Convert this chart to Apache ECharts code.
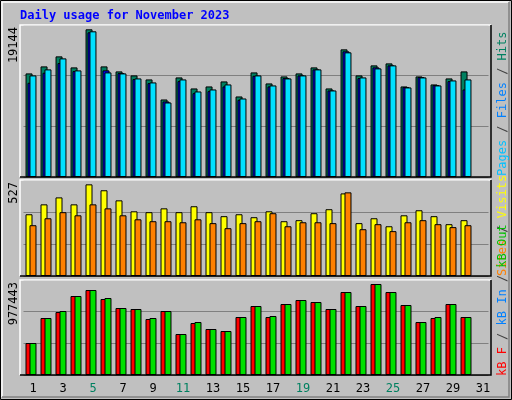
<!DOCTYPE html>
<html>
<head>
<meta charset="utf-8">
<script src="https://cdn.jsdelivr.net/npm/echarts@6/dist/echarts.min.js"></script>
<style>
  html, body { margin: 0; padding: 0; background: #c0c0c0; }
  #chart { width: 512px; height: 400px; }
</style>
</head>
<body>
<div id="chart"></div>
<script>
const days = Array.from({ length: 31 }, (_, i) => String(i + 1));
const weekendDays = ['4', '5', '11', '12', '18', '19', '25', '26'];

const hits = [13426, 14336, 15635, 14206, 19144, 14336, 13686, 13166, 12647, 10048, 12906, 11477, 11737, 12387, 10438,
    13556, 12127, 13036, 13426, 14206, 11477, 16544, 13166, 14466, 14725, 11737, 13036, 11997, 12776, 13686, null];
const files = [12213, 13513, 14769, 13729, 18753, 13816, 13469, 12690, 12170, 9788, 12430, 10871, 11131, 11737, 10005,
    13123, 11737, 12820, 13166, 13946, 11217, 16285, 12820, 14206, 14466, 11650, 12950, 11910, 12430, 11347, null];
const pages = [13166, 13946, 15375, 13816, 18883, 13556, 13426, 12776, 12257, 9658, 12647, 11087, 11347, 11997, 10178,
    13166, 11867, 12776, 13166, 13946, 11217, 16155, 12906, 14076, 14466, 11607, 12906, 11867, 12517, 12647, null];

const visits = [355, 412, 452, 412, 527, 493, 435, 372, 367, 389, 367, 401, 367, 344, 355,
    338, 372, 315, 321, 361, 384, 475, 304, 332, 286, 349, 378, 344, 298, 321, null];
const sites = [292, 332, 367, 349, 412, 389, 349, 326, 315, 315, 309, 326, 304, 275, 304,
    315, 361, 286, 309, 309, 304, 481, 269, 298, 258, 309, 321, 298, 281, 292, null];

const kbFiles = [343680, 612180, 676620, 848460, 912900, 816240, 719580, 708840, 601440, 687360, 440340, 558480, 494040, 472560, 622920,
    741060, 622920, 762540, 805500, 784020, 708840, 891420, 741060, 977443, 891420, 751800, 569220, 612180, 762540, 622920, null];
const kbOut = [343680, 612180, 687360, 848460, 912900, 826980, 719580, 708840, 612180, 687360, 440340, 569220, 494040, 472560, 622920,
    741060, 633660, 762540, 805500, 784020, 708840, 891420, 741060, 977443, 891420, 751800, 569220, 622920, 762540, 622920, null];

const panels = [
    { top: 25, height: 152, max: 19701 },
    { top: 180, height: 96, max: 552 },
    { top: 280, height: 95, max: 1020408 }
];

const mono = 'DejaVu Sans Mono';

function bar(data, color, gridIndex, gap) {
    return {
        type: 'bar', data, xAxisIndex: gridIndex, yAxisIndex: gridIndex,
        barWidth: 7, barGap: gap, animation: false,
        itemStyle: { color, borderColor: '#000', borderWidth: 1 }
    };
}

function frame(p) {
    const x1 = 20, x2 = 491, y1 = p.top, y2 = p.top + p.height;
    return [
        { type: 'polyline', shape: { points: [[x1, y2], [x1, y1], [x2, y1]] }, style: { stroke: '#fff', lineWidth: 1.5, fill: null }, z: 10 },
        { type: 'polyline', shape: { points: [[x1, y2], [x2, y2], [x2, y1]] }, style: { stroke: '#000', lineWidth: 1.5, fill: null }, z: 10 }
    ];
}

function sideText(y, parts) {
    return {
        type: 'text', x: 503, y, rotation: Math.PI / 2, z: 10,
        style: {
            text: parts.map(([t, k]) => `{${k}|${t}}`).join(''),
            align: 'left', verticalAlign: 'middle',
            font: `12px "${mono}"`,
            rich: {
                pg: { fill: '#00c0ff', font: `12px "${mono}"` },
                fl: { fill: '#0080ff', font: `12px "${mono}"` },
                ht: { fill: '#008060', font: `12px "${mono}"` },
                st: { fill: '#ff8000', font: `12px "${mono}"` },
                vs: { fill: '#ffff00', font: `12px "${mono}"` },
                kf: { fill: '#ff0000', font: `12px "${mono}"` },
                ki: { fill: '#0080ff', font: `12px "${mono}"` },
                ko: { fill: '#00c000', font: `12px "${mono}"` },
                sl: { fill: '#404040', font: `12px "${mono}"` }
            }
        }
    };
}

function maxLabel(text, y) {
    return {
        type: 'text', x: 14, y, rotation: Math.PI / 2, z: 10,
        style: { text, align: 'right', verticalAlign: 'middle', font: `12px "${mono}"`, fill: '#000' }
    };
}

const chart = echarts.init(document.getElementById('chart'));
chart.setOption({
    backgroundColor: '#c0c0c0',
    animation: false,
    grid: panels.map(p => ({ left: 23.5, width: 465, top: p.top, height: p.height })),
    xAxis: panels.map((p, i) => ({
        type: 'category', gridIndex: i, data: days,
        axisLine: { show: false }, axisTick: { show: false },
        axisLabel: {
            show: i === 2, margin: 8, padding: [0, 0, 0, 4],
            fontFamily: mono, fontSize: 12,
            color: v => (weekendDays.includes(v) ? '#008060' : '#000')
        }
    })),
    yAxis: panels.map((p, i) => ({
        type: 'value', gridIndex: i, min: 0, max: p.max, interval: p.max / 3,
        axisLabel: { show: false }, axisLine: { show: false }, axisTick: { show: false },
        splitLine: { lineStyle: { color: '#808080', width: 1 } }
    })),
    series: [
        bar(hits, '#008060', 0, '-72%'),
        bar(files, '#0000ff', 0, '-72%'),
        bar(pages, '#00e0ff', 0, '-72%'),
        bar(visits, '#ffff00', 1, '-43%'),
        bar(sites, '#ff8000', 1, '-43%'),
        bar(kbFiles, '#ff0000', 2, '-43%'),
        bar(kbOut, '#00e000', 2, '-43%')
    ],
    graphic: [
        { type: 'rect', shape: { x: 0.5, y: 0.5, width: 511, height: 399 }, style: { fill: null, stroke: '#000', lineWidth: 1 }, z: 10 },
        { type: 'polyline', shape: { points: [[2, 397], [2, 2], [509, 2]] }, style: { stroke: '#fff', lineWidth: 1.5, fill: null }, z: 10 },
        { type: 'polyline', shape: { points: [[2, 397], [509, 397], [509, 2]] }, style: { stroke: '#808080', lineWidth: 1.5, fill: null }, z: 10 },
        {
            type: 'text', x: 20, y: 16, z: 10,
            style: { text: 'Daily usage for November 2023', font: `bold 12px "${mono}"`, fill: '#0000ff', verticalAlign: 'middle' }
        },
        ...panels.flatMap(frame),
        maxLabel('19144', 27),
        maxLabel('527', 182),
        maxLabel('977443', 282),
        sideText(176, [['Pages', 'pg'], [' / ', 'sl'], ['Files', 'fl'], [' / ', 'sl'], ['Hits', 'ht']]),
        sideText(276, [['Sites', 'st'], [' / ', 'sl'], ['Visits', 'vs']]),
        sideText(376, [['kB F', 'kf'], [' / ', 'sl'], ['kB In', 'ki'], [' / ', 'sl'], ['kB Out', 'ko']])
    ]
});
</script>
</body>
</html>
